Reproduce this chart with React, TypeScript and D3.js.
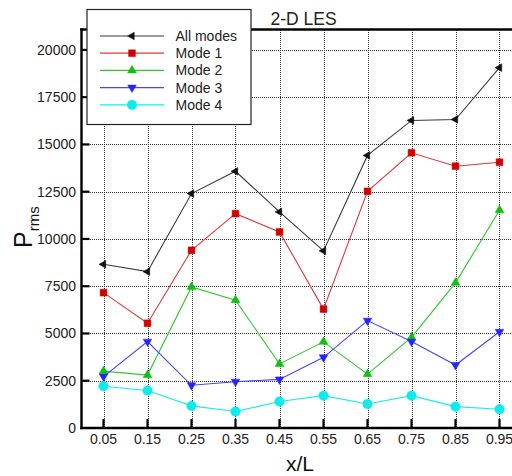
import React from 'react';
import * as d3 from 'd3';

// Measurement stations along the wall
const stations = [0.05, 0.15, 0.25, 0.35, 0.45, 0.55, 0.65, 0.75, 0.85, 0.95];
const stationLabels = ['0.05', '0.15', '0.25', '0.35', '0.45', '0.55', '0.65', '0.75', '0.85', '0.95'];

// RMS pressure per station
const allModes = [8660, 8270, 12400, 13580, 11430, 9370, 14420, 16270, 16320, 19060];
const mode1 = [7160, 5540, 9400, 11340, 10370, 6290, 12520, 14560, 13850, 14060];
const mode2 = [3010, 2800, 7460, 6760, 3390, 4560, 2850, 4790, 7680, 11520];
const mode3 = [2720, 4570, 2260, 2450, 2570, 3740, 5680, 4570, 3330, 5090];
const mode4 = [2210, 1980, 1170, 870, 1400, 1710, 1270, 1710, 1130, 990];

const seriesNames = ['All modes', 'Mode 1', 'Mode 2', 'Mode 3', 'Mode 4'];
const yTicks = [0, 2500, 5000, 7500, 10000, 12500, 15000, 17500, 20000];

const W = 512;
const H = 476;
const left = 81.5;
const bottom = 428;
const top = 29.5;
const FONT = 'Arial, "Liberation Sans", Helvetica, sans-serif';

type Style = { line: string; fill: string; shape: d3.SymbolType; size: number; rotate: number };

const styles: Style[] = [
  { line: '#3a3a3a', fill: '#111', shape: d3.symbolTriangle, size: 26, rotate: -90 },
  { line: '#dd3a3a', fill: '#d40000', shape: d3.symbolSquare, size: 46, rotate: 0 },
  { line: '#2ec82e', fill: '#10c010', shape: d3.symbolTriangle, size: 34, rotate: 0 },
  { line: '#4646ff', fill: '#2424ff', shape: d3.symbolTriangle, size: 32, rotate: 180 },
  { line: '#18ecec', fill: '#10eaea', shape: d3.symbolCircle, size: 72, rotate: 0 },
];

export default function App() {
  const x = d3.scaleLinear().domain([0, 1]).range([left, left + 440]);
  const y = d3.scaleLinear().domain([0, 21080]).range([bottom, top]);
  const series = [allModes, mode1, mode2, mode3, mode4];

  const line = d3
    .line<number>()
    .x((_, i) => x(stations[i]))
    .y((d) => y(d));

  const marker = (s: Style, cx: number, cy: number, key: string) => (
    <path
      key={key}
      d={d3.symbol().type(s.shape).size(s.size)() || ''}
      transform={`translate(${cx},${cy}) rotate(${s.rotate})`}
      fill={s.fill}
      stroke={s.fill}
      strokeWidth={0.5}
    />
  );

  return (
    <svg
      width={W}
      height={H}
      style={{ position: 'absolute', left: 0, top: 0, background: '#fff' }}
      fontFamily={FONT}
    >
      <rect width={W} height={H} fill="#fff" />

      {/* dotted grid */}
      <g stroke="#333" strokeWidth={1} strokeDasharray="1 1" shapeRendering="crispEdges">
        {yTicks.slice(1).map((t) => (
          <line key={`gy${t}`} x1={left} x2={W} y1={Math.round(y(t)) + 0.5} y2={Math.round(y(t)) + 0.5} />
        ))}
        {stations.map((s) => (
          <line key={`gx${s}`} x1={Math.round(x(s)) + 0.5} x2={Math.round(x(s)) + 0.5} y1={top} y2={bottom} />
        ))}
      </g>

      {/* series */}
      {series.map((vals, k) => (
        <g key={seriesNames[k]}>
          <path d={line(vals) || ''} fill="none" stroke={styles[k].line} strokeWidth={1.1} />
          {vals.map((v, i) => marker(styles[k], x(stations[i]), y(v), `${k}-${i}`))}
        </g>
      ))}

      {/* frame */}
      <g stroke="#000" strokeWidth={2.4} fill="none">
        <line x1={left} x2={left} y1={top - 1.2} y2={bottom + 1.2} />
        <line x1={left - 1.2} x2={W} y1={bottom} y2={bottom} />
        <line x1={left - 1.2} x2={W} y1={top} y2={top} />
      </g>

      {/* ticks */}
      <g stroke="#000" strokeWidth={2.2}>
        {stations.map((s) => (
          <line key={`tx${s}`} x1={x(s)} x2={x(s)} y1={bottom} y2={bottom - 9} />
        ))}
        {yTicks.slice(1).map((t) => (
          <line key={`ty${t}`} x1={left} x2={left + 8} y1={y(t)} y2={y(t)} />
        ))}
      </g>

      {/* tick labels */}
      <g fontSize={14} fill="#222">
        {stations.map((s, i) => (
          <text key={`lx${s}`} x={x(s)} y={443.5} textAnchor="middle">
            {stationLabels[i]}
          </text>
        ))}
        {yTicks.map((t) => (
          <text key={`ly${t}`} x={76} y={y(t) + 5} textAnchor="end">
            {t}
          </text>
        ))}
      </g>

      {/* axis titles */}
      <text x={300} y={471} fontSize={21} textAnchor="middle" fill="#111">
        x/L
      </text>
      <g transform="translate(32,248) rotate(-90)" fill="#111">
        <text x={0} y={0} fontSize={25}>
          P
          <tspan dy={7} fontSize={15}>
            rms
          </tspan>
        </text>
      </g>

      {/* title */}
      <text x={303.5} y={25} fontSize={17.5} textAnchor="middle" fill="#222">
        2-D LES
      </text>

      {/* legend */}
      <g>
        <rect x={87} y={9.5} width={164} height={115} fill="#fff" stroke="#222" strokeWidth={1.2} />
        {seriesNames.map((name, k) => {
          const ry = 36 + k * 17.2;
          return (
            <g key={`lg${name}`}>
              <line x1={100} x2={164} y1={ry} y2={ry} stroke={styles[k].line} strokeWidth={1.2} />
              {marker(styles[k], 132, ry, `lm${k}`)}
              <text x={175.5} y={ry + 5} fontSize={14} fill="#222">
                {name}
              </text>
            </g>
          );
        })}
      </g>
    </svg>
  );
}
